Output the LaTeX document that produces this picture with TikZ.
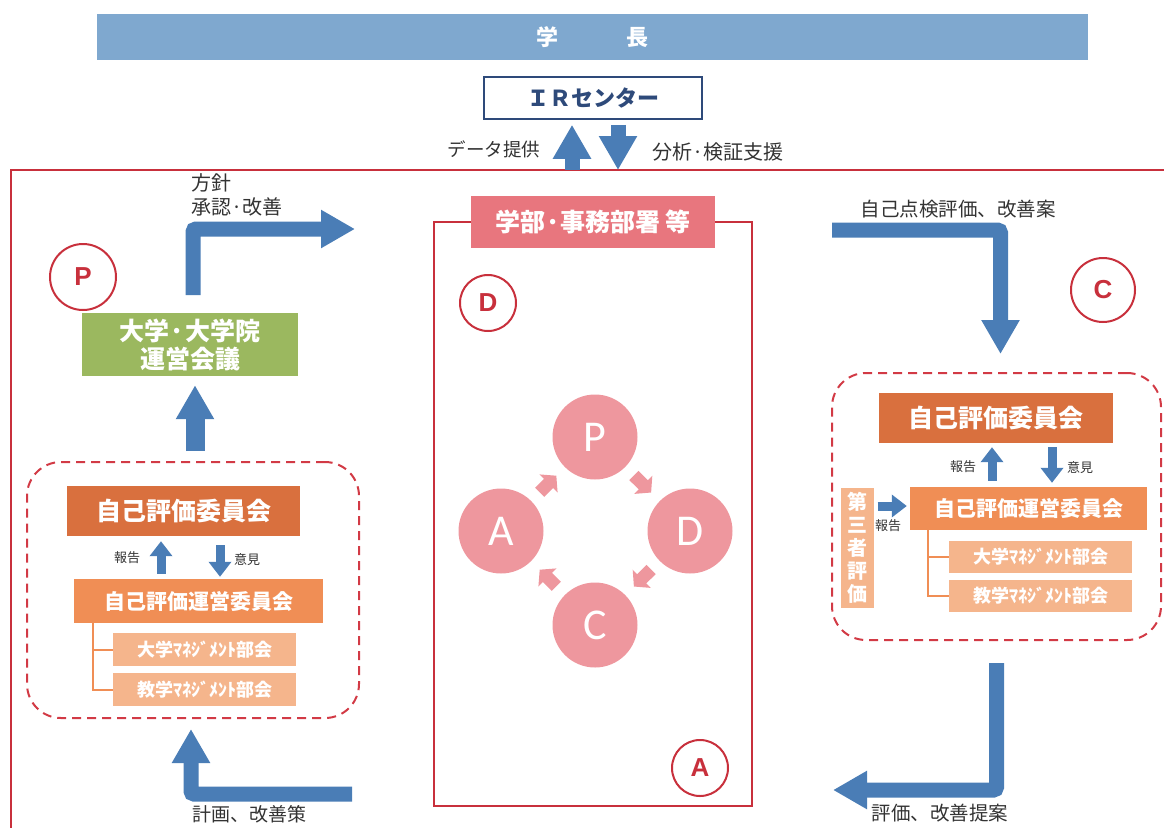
\documentclass[tikz,border=0pt]{standalone}
\usepackage{fontspec}
\setmainfont{Noto Sans CJK JP}
\newfontfamily\pdcafont{Carlito}
\newfontfamily\lblfont{Liberation Sans}
\usetikzlibrary{arrows.meta,calc}
\definecolor{bannerblue}{HTML}{7FA8CF}
\definecolor{irblue}{HTML}{2E4A7A}
\definecolor{arrowblue}{HTML}{4A7DB6}
\definecolor{framered}{HTML}{C8303C}
\definecolor{dashred}{HTML}{D23A45}
\definecolor{deptpink}{HTML}{E8767E}
\definecolor{pdcapink}{HTML}{EE979E}
\definecolor{darkorange}{HTML}{D9703E}
\definecolor{midorange}{HTML}{F08E55}
\definecolor{lightorange}{HTML}{F5B58C}
\definecolor{olivegreen}{HTML}{9BB85F}
\definecolor{textgray}{HTML}{333333}
\newcommand\fsz[1]{\fontsize{#1}{#1}\selectfont}
\begin{document}
\begin{tikzpicture}[x=1pt,y=-1pt,
  lab/.style={text=textgray, inner sep=0},
  wbox/.style={inner sep=0, text=white},
  barrow/.style={draw=arrowblue, line width=15pt, -{Triangle[width=36pt,length=34pt]}, rounded corners=3pt},
  sarrow/.style={draw=arrowblue, line width=9pt, -{Triangle[width=22pt,length=15pt]}},
  parrow/.style={draw=pdcapink, line width=13pt, -{Triangle[width=25pt,length=11pt]}},
  conn/.style={draw=midorange, line width=2pt},
  dashbox/.style={draw=dashred, line width=2pt, dash pattern=on 9pt off 6pt, rounded corners=34pt, inner sep=0},
  circlbl/.style={circle, draw=framered, line width=2pt, fill=white, text=framered, font=\lblfont\bfseries\fsz{26}, inner sep=0},
  pdca/.style={circle, fill=pdcapink, minimum size=85pt, inner sep=0, text=white, font=\pdcafont\fsz{44}}
]
\useasboundingbox (0,0) rectangle (1164,828);

% outer frame
\draw[framered, line width=2.5pt] (1164,170) -- (11,170) -- (11,828);

% banner and IR
\node[wbox, fill=bannerblue, minimum width=991pt, minimum height=46pt, font=\bfseries\fsz{22}] (banner) at (592.5,37) {学\hspace{68pt}長};
\node[draw=irblue, line width=1.5pt, fill=white, minimum width=218pt, minimum height=42pt, inner sep=0, text=irblue, font=\bfseries\fsz{22}] (ir) at (593,98) {ＩＲセンター};

% center area
\draw[framered, line width=1.5pt] (434,222) rectangle (752,806);
\node[wbox, fill=deptpink, minimum width=244pt, minimum height=52pt, font=\bfseries\fsz{25}] (dept) at (593,222) {学部·事務部署 等};

% circled letters
\node[circlbl, minimum size=66pt] (cP) at (83,277) {P};
\node[circlbl, minimum size=56pt] (cD) at (488,303) {D};
\node[circlbl, minimum size=64pt] (cC) at (1103,290) {C};
\node[circlbl, minimum size=56pt] (cA) at (700,768) {A};

% PDCA cycle
\node[pdca] (pP) at (595,437) {P};
\node[pdca] (pD) at (690,531) {D};
\node[pdca] (pC) at (595,625) {C};
\node[pdca] (pA) at (501,531) {A};
\draw[parrow, shorten <=12pt, shorten >=12pt] (pP) -- (pD);
\draw[parrow, shorten <=12pt, shorten >=12pt] (pD) -- (pC);
\draw[parrow, shorten <=12pt, shorten >=12pt] (pC) -- (pA);
\draw[parrow, shorten <=12pt, shorten >=12pt] (pA) -- (pP);

% left side
\node[wbox, fill=olivegreen, minimum width=216pt, minimum height=63pt, align=center, font=\bfseries\fontsize{25}{28}\selectfont] (green) at (190,344.5) {大学·大学院\\運営会議};
\node[dashbox, minimum width=332pt, minimum height=256pt] (lbox) at (193,590) {};
\node[wbox, fill=darkorange, minimum width=233pt, minimum height=50pt, font=\bfseries\fsz{25}] (lcom) at (183.5,511) {自己評価委員会};
\node[wbox, fill=midorange, minimum width=249pt, minimum height=44pt, font=\bfseries\fsz{21}] (lrun) at (198.5,601) {自己評価運営委員会};
\node[wbox, fill=lightorange, minimum width=183pt, minimum height=33pt, font=\bfseries\fsz{18}] (lsub1) at (204.5,649.5) {大学ﾏﾈｼﾞﾒﾝﾄ部会};
\node[wbox, fill=lightorange, minimum width=183pt, minimum height=33pt, font=\bfseries\fsz{18}] (lsub2) at (204.5,689.5) {教学ﾏﾈｼﾞﾒﾝﾄ部会};
\coordinate (lcx) at (93,0);
\draw[conn] (lcx |- lrun.south) -- (lcx |- lsub2.west) -- (lsub2.west);
\draw[conn] (lcx |- lsub1.west) -- (lsub1.west);
\coordinate (la1) at (161,0);
\coordinate (la2) at (220,0);
\draw[sarrow, shorten <=5pt, shorten >=5pt] (la1 |- lrun.north) -- (la1 |- lcom.south);
\draw[sarrow, shorten <=9pt, shorten >=2pt] (la2 |- lcom.south) -- (la2 |- lrun.north);
\node[lab, font=\fsz{13}] (lrep) at (127,558) {報告};
\node[lab, font=\fsz{13}] (lop) at (247,560) {意見};

% right side
\node[dashbox, minimum width=329pt, minimum height=267pt] (rbox) at (996.5,506.5) {};
\node[wbox, fill=darkorange, minimum width=234pt, minimum height=50pt, font=\bfseries\fsz{25}] (rcom) at (996,418) {自己評価委員会};
\node[wbox, fill=lightorange, minimum width=33pt, minimum height=120pt, align=center, font=\bfseries\fontsize{20}{23}\selectfont] (third) at (857,548) {第\\三\\者\\評\\価};
\node[wbox, fill=midorange, minimum width=237pt, minimum height=43pt, font=\bfseries\fsz{21}] (rrun) at (1028.5,508.5) {自己評価運営委員会};
\node[wbox, fill=lightorange, minimum width=183pt, minimum height=32pt, font=\bfseries\fsz{18}] (rsub1) at (1040.5,557) {大学ﾏﾈｼﾞﾒﾝﾄ部会};
\node[wbox, fill=lightorange, minimum width=183pt, minimum height=32pt, font=\bfseries\fsz{18}] (rsub2) at (1040.5,596) {教学ﾏﾈｼﾞﾒﾝﾄ部会};
\coordinate (rcx) at (928,0);
\draw[conn] (rcx |- rrun.south) -- (rcx |- rsub2.west) -- (rsub2.west);
\draw[conn] (rcx |- rsub1.west) -- (rsub1.west);
\coordinate (ra1) at (992,0);
\coordinate (ra2) at (1052,0);
\draw[sarrow, shorten <=6pt, shorten >=4pt] (ra1 |- rrun.north) -- (ra1 |- rcom.south);
\draw[sarrow, shorten <=4pt, shorten >=4pt] (ra2 |- rcom.south) -- (ra2 |- rrun.north);
\coordinate (ta) at (0,506);
\draw[sarrow, shorten <=4pt, shorten >=3pt] (third.east |- ta) -- (rrun.west |- ta);
\node[lab, font=\fsz{13}] (rrep) at (963,467) {報告};
\node[lab, font=\fsz{13}] (rop) at (1080,468) {意見};
\node[lab, font=\fsz{13}] (trep) at (888,526) {報告};

% IR arrows
\coordinate (upx) at (572,170);
\coordinate (dnx) at (618,170);
\draw[barrow, shorten >=5pt] (upx) -- (upx |- ir.south);
\draw[barrow, shorten <=5pt] (dnx |- ir.south) -- (dnx);
\node[lab, font=\fsz{18.5}] (lData) at (494,149) {データ提供};
\node[lab, font=\fsz{20}] (lAnal) at (718,152) {分析·検証支援};

% big elbow arrows
\coordinate (ltstart) at (193,295);
\coordinate (ltend) at (355,229);
\draw[barrow] (ltstart) |- (ltend);
\node[lab, font=\fsz{20}, anchor=west] (lHoushin) at (191,183) {方針};
\node[lab, font=\fsz{20}, anchor=west] (lShounin) at (191,207) {承認·改善};

\coordinate (gup) at (195,451);
\draw[barrow, line width=19pt, shorten >=9pt] (gup) -- (gup |- green.south);

\coordinate (lb) at (352,794);
\draw[barrow, shorten >=10pt] (lb) -| ($(lbox.south)+(-2,0)$);
\node[lab, font=\fsz{19}] (lKeikaku) at (249,814) {計画、改善策};

\coordinate (rt) at (832,230);
\draw[barrow, shorten >=18pt] (rt) -| ($(rbox.north)+(4,0)$);
\node[lab, font=\fsz{19.5}] (lJiko) at (958,209) {自己点検評価、改善案};

\coordinate (rb) at (833,790);
\draw[barrow, shorten <=22pt] (rbox.south) |- (rb);
\node[lab, font=\fsz{19.5}] (lHyouka) at (940,813) {評価、改善提案};
\end{tikzpicture}
\end{document}
